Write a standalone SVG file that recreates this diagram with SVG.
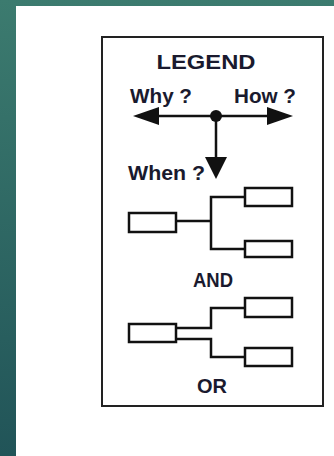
<svg xmlns="http://www.w3.org/2000/svg" width="334" height="456" viewBox="0 0 334 456">
<defs>
<linearGradient id="bg" x1="0" y1="0" x2="0" y2="1">
<stop offset="0" stop-color="#3c7b6f"/>
<stop offset="1" stop-color="#215458"/>
</linearGradient>
<style>
.t{font-family:"Liberation Sans",Arial,sans-serif;font-weight:bold;fill:#1a1a2e;font-size:20px}
.ln{fill:none;stroke:#111;stroke-width:2.5}
.bx{fill:#fff;stroke:#111;stroke-width:2.5}
.ah{fill:#111}
</style>
</defs>
<rect x="0" y="0" width="334" height="456" fill="url(#bg)"/>
<rect x="16" y="6" width="318" height="450" fill="#fff"/>
<g id="legend-frame">
<rect x="102" y="37" width="221" height="369" fill="#fff" stroke="#222" stroke-width="2"/>
<text class="t" x="206" y="69" text-anchor="middle" font-size="22" textLength="99" lengthAdjust="spacingAndGlyphs">LEGEND</text>
</g>
<g id="directions">
<text class="t" x="130" y="103" textLength="62" lengthAdjust="spacingAndGlyphs">Why ?</text>
<text class="t" x="234" y="103" textLength="62" lengthAdjust="spacingAndGlyphs">How ?</text>
<text class="t" x="128" y="180" textLength="77" lengthAdjust="spacingAndGlyphs">When ?</text>
</g>
<g id="connectors">
<path class="ln" d="M157 116H270M216 116V160"/>
<polygon class="ah" points="133,116 159,107 159,125"/>
<polygon class="ah" points="293,116 267,107 267,125"/>
<polygon class="ah" points="205,157 227,157 216,179"/>
<circle class="ah" cx="216" cy="116" r="6"/>
<path class="ln" d="M176 221H211M245 197H211V249H245"/>
<path class="ln" d="M176 328H211V308H245M176 339H211V357H245"/>
</g>
<g id="and-group">
<rect class="bx" x="129" y="213" width="47" height="19"/>
<rect class="bx" x="245" y="188" width="47" height="18"/>
<rect class="bx" x="245" y="241" width="47" height="16"/>
<text class="t" x="213" y="287" text-anchor="middle" textLength="40" lengthAdjust="spacingAndGlyphs">AND</text>
</g>
<g id="or-group">
<rect class="bx" x="129" y="324" width="47" height="18"/>
<rect class="bx" x="245" y="298" width="47" height="19"/>
<rect class="bx" x="245" y="348" width="47" height="18"/>
<text class="t" x="212" y="393" text-anchor="middle" textLength="30" lengthAdjust="spacingAndGlyphs">OR</text>
</g>
</svg>
